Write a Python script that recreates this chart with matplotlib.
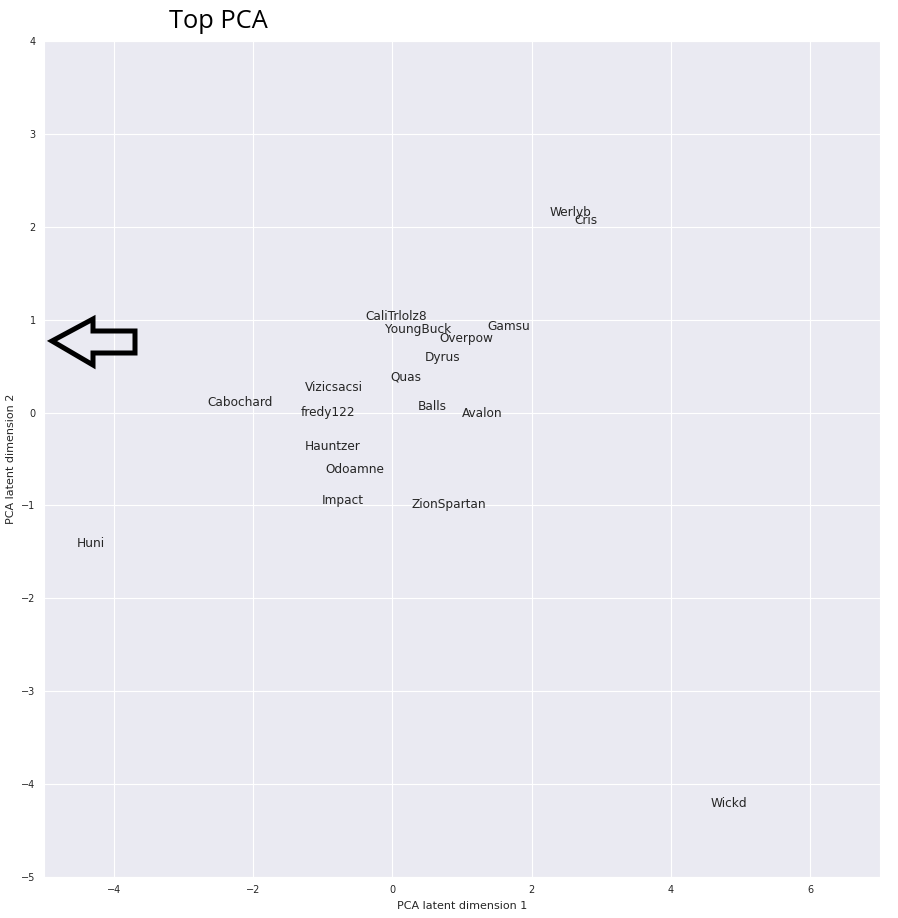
import numpy as np
import matplotlib
matplotlib.use('Agg')
import matplotlib.pyplot as plt
import seaborn as sns
from matplotlib.patches import Polygon

# player names and their positions on the first two PCA components
names = ['Werlyb', 'Cris', 'CaliTrlolz8', 'YoungBuck', 'Gamsu', 'Overpow', 'Dyrus',
         'Quas', 'Vizicsacsi', 'Cabochard', 'fredy122', 'Balls', 'Avalon', 'Hauntzer',
         'Odoamne', 'Impact', 'ZionSpartan', 'Huni', 'Wickd']
pc1 = [2.26, 2.62, -0.38, -0.10, 1.36, 0.67, 0.46, -0.03, -1.25, -2.65, -1.31,
       0.37, 1.00, -1.25, -0.96, -1.02, 0.28, -4.53, 4.57]
pc2 = [2.12, 2.03, 1.00, 0.855, 0.89, 0.76, 0.555, 0.35, 0.23, 0.07, -0.04,
       0.03, -0.05, -0.40, -0.65, -0.98, -1.03, -1.45, -4.25]

sns.set_style('darkgrid')
plt.rcParams['font.family'] = ['DejaVu Sans']

W, H = 898, 918
fig = plt.figure(figsize=(W / 100, H / 100), dpi=100)
ax = fig.add_axes([44 / W, 1 - 877 / H, 836 / W, 836 / H])

for n, x, y in zip(names, pc1, pc2):
    ax.text(x, y, n, fontsize=8.7, color='#262626')

ax.set_xlim(-5, 7)
ax.set_ylim(-5, 4)
ax.set_xticks(np.arange(-4, 7, 2))
ax.set_yticks(np.arange(-5, 5, 1))
ax.tick_params(labelsize=7, colors='#262626', length=0, pad=6)
ax.set_xlabel('PCA latent dimension 1', fontsize=8, color='#262626')
ax.set_ylabel('PCA latent dimension 2', fontsize=8, color='#262626')

# hand drawn arrow and title on top of the figure (pixel coords)
arrow_px = [(52, 341), (93, 319), (93, 331), (135, 331), (135, 353), (93, 353), (93, 365)]
arrow = Polygon([(x / W, 1 - y / H) for x, y in arrow_px], closed=True, fill=False,
                edgecolor='black', linewidth=3.6, joinstyle='miter', transform=fig.transFigure)
fig.patches.append(arrow)

fig.text(169 / W, 1 - 28 / H, 'Top PCA', fontsize=18.3, family='Open Sans', color='black')

fig.savefig('out.png', dpi=100)
